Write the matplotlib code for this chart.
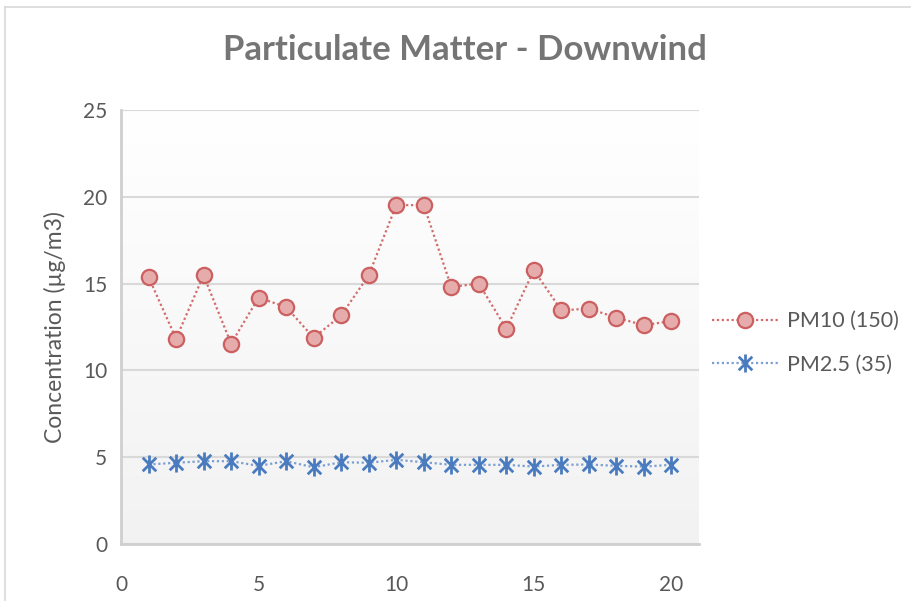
import matplotlib
matplotlib.use("Agg")
import matplotlib.pyplot as plt
import numpy as np
from matplotlib.path import Path
from matplotlib.lines import Line2D
from matplotlib.colors import LinearSegmentedColormap

plt.rcParams['font.family'] = ['Lato', 'DejaVu Sans']

x_vals = list(range(1, 21))
pm10 = [15.38, 11.83, 15.48, 11.54, 14.19, 13.65, 11.88, 13.17, 15.48, 19.52,
        19.52, 14.81, 15.00, 12.40, 15.77, 13.46, 13.56, 13.04, 12.60, 12.85]
pm25 = [4.58, 4.68, 4.77, 4.77, 4.50, 4.77, 4.42, 4.71, 4.68, 4.85,
        4.71, 4.56, 4.56, 4.56, 4.46, 4.56, 4.58, 4.50, 4.46, 4.56]
series_labels = ["PM10 (150)", "PM2.5 (35)"]
title = "Particulate Matter - Downwind"
ylabel = "Concentration (µg/m3)"
xticks = [0, 5, 10, 15, 20]
yticks = [0, 5, 10, 15, 20, 25]

fig = plt.figure(figsize=(9.11, 6.01), dpi=100)
ax = fig.add_axes([121/911, 1-544/601, (699-121)/911, (544-110)/601])

# gradient background
grad = np.linspace(1, 0, 256).reshape(-1, 1)
cmap = LinearSegmentedColormap.from_list("g", ["#f2f2f2", "#ffffff"])
ax.imshow(grad, cmap=cmap, aspect='auto', extent=[0, 1, 0, 1],
          transform=ax.transAxes, zorder=0, vmin=0, vmax=1)

ax.set_xlim(0, 21)
ax.set_ylim(0, 25)
ax.set_xticks(xticks)
ax.set_yticks(yticks)
ax.grid(axis='y', color='#d9d9d9', linewidth=1.5, zorder=1)
ax.set_axisbelow(True)

for s in ['top', 'right']:
    ax.spines[s].set_visible(False)
for s in ['left', 'bottom']:
    ax.spines[s].set_color('#cfcfcf')
    ax.spines[s].set_linewidth(2)

ax.tick_params(length=0, labelsize=15, colors='#595959')
ax.tick_params(axis='x', pad=22)
ax.tick_params(axis='y', pad=10)

star = Path([(0, -1), (0, 1), (-0.75, -0.75), (0.75, 0.75), (-0.75, 0.75), (0.75, -0.75)],
            [Path.MOVETO, Path.LINETO, Path.MOVETO, Path.LINETO, Path.MOVETO, Path.LINETO])

ax.plot(x_vals, pm10, linestyle=(0, (1, 1.2)), color='#d26c6a', linewidth=1.6,
        marker='o', markersize=11, markerfacecolor='#e6acab', markeredgecolor='#cc5f60',
        markeredgewidth=1.6, label=series_labels[0], zorder=3)
ax.plot(x_vals, pm25, linestyle=(0, (1, 1.2)), color='#7b9fd3', linewidth=1.6,
        marker=star, markersize=13, markerfacecolor='none', markeredgecolor='#4a7bbf',
        markeredgewidth=2.0, label=series_labels[1], zorder=3)

ax.set_ylabel(ylabel, fontsize=16.5, color='#595959', labelpad=12)

fig.text(465/911, 1-50/601, title, ha='center', va='center', fontsize=25,
         fontweight='bold', color='#757575')

leg = ax.legend(loc='center left', bbox_to_anchor=(703/911, 1-343/601),
                bbox_transform=fig.transFigure, frameon=False, fontsize=15.5,
                handlelength=3.1, handletextpad=0.4, labelspacing=1.1,
                borderaxespad=0)
for t in leg.get_texts():
    t.set_color('#595959')

# outer chart border (top & left visible)
fig.add_artist(Line2D([5/911, 1], [1-7/601, 1-7/601], transform=fig.transFigure,
                      color='#d9d9d9', linewidth=1.2))
fig.add_artist(Line2D([5/911, 5/911], [0, 1-7/601], transform=fig.transFigure,
                      color='#d9d9d9', linewidth=1.2))

fig.savefig("out.png", dpi=100)
